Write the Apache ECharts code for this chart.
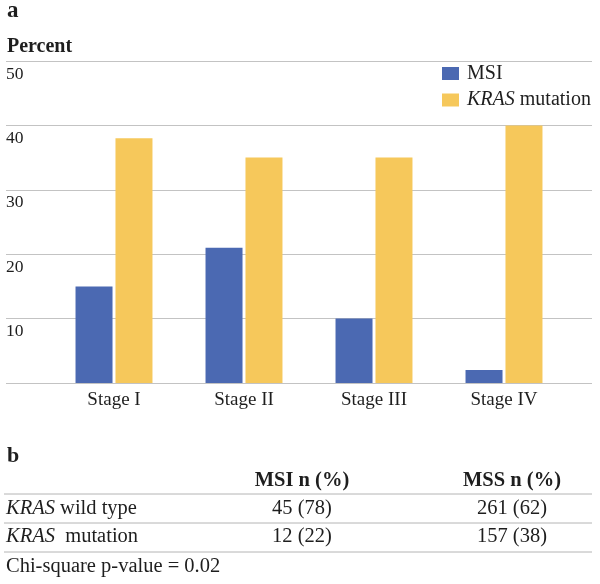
<!DOCTYPE html>
<html>
<head>
<meta charset="utf-8">
<style>
html,body{margin:0;padding:0;background:#fff;}
#chart{width:600px;height:584px;}
</style>
<script src="https://cdn.jsdelivr.net/npm/echarts@6/dist/echarts.min.js"></script>
</head>
<body>
<div id="chart"></div>
<script>
// ---- data ----
const categories = ['Stage I', 'Stage II', 'Stage III', 'Stage IV'];
const msiValues = [15, 21, 10, 2];
const krasValues = [38, 35, 35, 40];
const seriesNames = ['MSI', 'KRAS mutation'];
const yMin = 0, yMax = 50, yStep = 10;

const tableHeaders = ['MSI n (%)', 'MSS n (%)'];
const tableRowLabels = ['{i|KRAS} wild type', '{i|KRAS}  mutation'];
const msiN = [45, 12];
const msiPct = [78, 22];
const mssN = [261, 157];
const mssPct = [62, 38];
const footnote = 'Chi-square p-value = 0.02';

// ---- style ----
const FONT = "'Liberation Serif', 'Times New Roman', serif";
const TXT = '#1e1e1e';
const BLUE = '#4b69b2';
const YELLOW = '#f6c85b';
const GRID = '#c3c3c3';

const chart = echarts.init(document.getElementById('chart'), null, {renderer: 'canvas'});

// table layout
const colX = [302, 512];
const headerY = 481;
const rowY = [509, 536.5];
const lineY = [494, 523, 552];
const footY = 567;
const tfs = 20.5;

const graphics = [];
graphics.push({type: 'text', x: 7, y: 11, style: {text: 'a', font: 'bold 23px ' + FONT, fill: TXT, align: 'left', verticalAlign: 'middle'}});
graphics.push({type: 'text', x: 7, y: 46.5, style: {text: 'Percent', font: 'bold 20px ' + FONT, fill: TXT, align: 'left', verticalAlign: 'middle'}});
graphics.push({type: 'text', x: 7, y: 456, style: {text: 'b', font: 'bold 22px ' + FONT, fill: TXT, align: 'left', verticalAlign: 'middle'}});
tableHeaders.forEach((h, i) => {
  graphics.push({type: 'text', x: colX[i], y: headerY, style: {text: h, font: 'bold ' + tfs + 'px ' + FONT, fill: TXT, align: 'center', verticalAlign: 'middle'}});
});
lineY.forEach(y => {
  graphics.push({type: 'line', shape: {x1: 4, y1: y, x2: 592, y2: y}, style: {stroke: '#b4b4b4', lineWidth: 1}});
});
tableRowLabels.forEach((lab, r) => {
  graphics.push({type: 'text', x: 6, y: rowY[r], style: {
    text: lab, fontSize: tfs, fontFamily: FONT, fill: TXT, align: 'left', verticalAlign: 'middle',
    rich: {i: {fontStyle: 'italic', fontSize: tfs, fontFamily: FONT, fill: TXT}}
  }});
  graphics.push({type: 'text', x: colX[0], y: rowY[r], style: {text: msiN[r] + ' (' + msiPct[r] + ')', font: tfs + 'px ' + FONT, fill: TXT, align: 'center', verticalAlign: 'middle'}});
  graphics.push({type: 'text', x: colX[1], y: rowY[r], style: {text: mssN[r] + ' (' + mssPct[r] + ')', font: tfs + 'px ' + FONT, fill: TXT, align: 'center', verticalAlign: 'middle'}});
});
graphics.push({type: 'text', x: 6, y: footY, style: {text: footnote, font: tfs + 'px ' + FONT, fill: TXT, align: 'left', verticalAlign: 'middle'}});

const option = {
  animation: false,
  backgroundColor: '#fff',
  textStyle: {fontFamily: FONT, color: TXT},
  grid: [
    {left: 6, right: 8, top: 61, bottom: 201},
    {left: 49, width: 520, top: 61, bottom: 201}
  ],
  xAxis: [
    {type: 'value', gridIndex: 0, show: false, min: 0, max: 1},
    {type: 'category', gridIndex: 1, data: categories,
     axisLine: {show: false}, axisTick: {show: false},
     axisLabel: {fontSize: 19, fontFamily: FONT, color: TXT, margin: 8}}
  ],
  yAxis: [
    {type: 'value', gridIndex: 0, min: yMin, max: yMax, interval: yStep,
     axisLine: {show: false}, axisTick: {show: false},
     splitLine: {show: true, lineStyle: {color: GRID, width: 1}},
     axisLabel: {inside: true, margin: 0, showMinLabel: false, align: 'left', verticalAlign: 'top',
                 padding: [4, 0, 0, 0], fontSize: 17.5, fontFamily: FONT, color: TXT}},
    {type: 'value', gridIndex: 1, min: yMin, max: yMax, interval: yStep, show: false, splitLine: {show: false}}
  ],
  legend: {
    orient: 'vertical', left: 442, top: 63.5, padding: 0, itemGap: 6.5,
    itemWidth: 17, itemHeight: 13, icon: 'rect',
    data: seriesNames,
    formatter: function (n) { return n === 'KRAS mutation' ? '{i|KRAS} mutation' : n; },
    textStyle: {fontSize: 20, fontFamily: FONT, color: TXT, lineHeight: 20, padding: [0, 0, 0, 3],
      rich: {i: {fontStyle: 'italic', fontSize: 20, fontFamily: FONT, color: TXT, lineHeight: 20}}}
  },
  series: [
    {name: seriesNames[0], type: 'bar', xAxisIndex: 1, yAxisIndex: 1, data: msiValues,
     barWidth: 37, barGap: '8%', itemStyle: {color: BLUE}},
    {name: seriesNames[1], type: 'bar', xAxisIndex: 1, yAxisIndex: 1, data: krasValues,
     barWidth: 37, barGap: '8%', itemStyle: {color: YELLOW}}
  ],
  graphic: graphics
};
chart.setOption(option);
</script>
</body>
</html>
